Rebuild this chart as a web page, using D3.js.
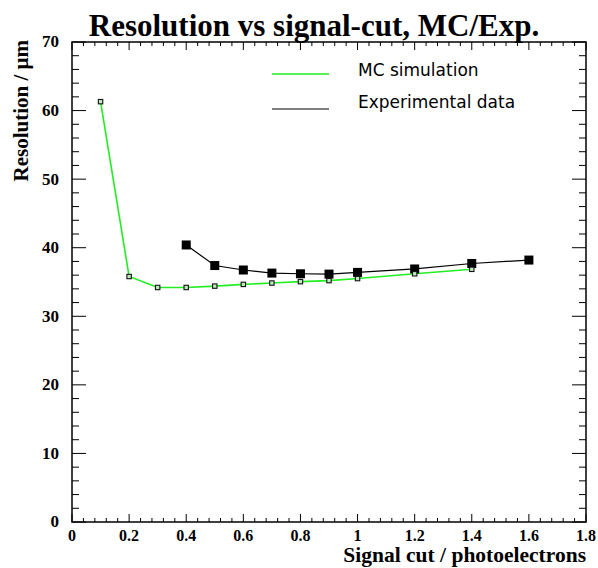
<!DOCTYPE html>
<html>
<head>
<meta charset="utf-8">
<script src="https://d3js.org/d3.v7.min.js"></script>
<style>
body { margin: 0; background: #fff; }
</style>
</head>
<body>
<div id="chart"></div>
<script>
// MC simulation
const mcCut = [0.1, 0.2, 0.3, 0.4, 0.5, 0.6, 0.7, 0.8, 0.9, 1.0, 1.2, 1.4];
const mcRes = [61.3, 35.8, 34.2, 34.2, 34.4, 34.65, 34.85, 35.05, 35.2, 35.5, 36.2, 36.85];
// Experimental data
const expCut = [0.4, 0.5, 0.6, 0.7, 0.8, 0.9, 1.0, 1.2, 1.4, 1.6];
const expRes = [40.4, 37.4, 36.75, 36.3, 36.2, 36.15, 36.4, 36.9, 37.7, 38.2];

const xTicks = [0, 0.2, 0.4, 0.6, 0.8, 1, 1.2, 1.4, 1.6, 1.8];
const yTicks = [0, 10, 20, 30, 40, 50, 60, 70];

const W = 598, H = 568;
const margin = {top: 42, right: 12, bottom: 46, left: 72},
    width = W - margin.left - margin.right,
    height = H - margin.top - margin.bottom;

const root = d3.select("#chart").append("svg")
    .attr("width", W)
    .attr("height", H);

const svg = root.append("g")
    .attr("transform", `translate(${margin.left},${margin.top})`);

const x = d3.scaleLinear().domain([0, 1.8]).range([0, width]);
const y = d3.scaleLinear().domain([0, 70]).range([height, 0]);

const serif = "'Liberation Serif', 'DejaVu Serif', serif";

// minor + major ticks on all four sides
const xMinor = d3.range(0, 1.8001, 0.04);
const yMinor = d3.range(0, 70.001, 2);
const isMajorX = v => Math.abs(v / 0.2 - Math.round(v / 0.2)) < 1e-6;
const isMajorY = v => v % 10 === 0;

const ticks = svg.append("g").attr("stroke", "#000").attr("stroke-width", 1);
xMinor.forEach(v => {
    const len = isMajorX(v) ? 8 : 4;
    ticks.append("line").attr("x1", x(v)).attr("x2", x(v)).attr("y1", height).attr("y2", height - len);
    ticks.append("line").attr("x1", x(v)).attr("x2", x(v)).attr("y1", 0).attr("y2", len);
});
yMinor.forEach(v => {
    const len = isMajorY(v) ? 14 : 7;
    ticks.append("line").attr("x1", 0).attr("x2", len).attr("y1", y(v)).attr("y2", y(v));
    ticks.append("line").attr("x1", width).attr("x2", width - len).attr("y1", y(v)).attr("y2", y(v));
});

// frame
svg.append("rect")
    .attr("width", width)
    .attr("height", height)
    .attr("fill", "none")
    .attr("stroke", "#000")
    .attr("stroke-width", 1.5);

// tick labels
svg.selectAll(".xlab")
    .data(xTicks)
    .enter().append("text")
    .attr("x", d => x(d))
    .attr("y", height + 19)
    .attr("text-anchor", "middle")
    .style("font-family", serif)
    .style("font-weight", "bold")
    .style("font-size", "16px")
    .text(d => d);

svg.selectAll(".ylab")
    .data(yTicks)
    .enter().append("text")
    .attr("x", -13)
    .attr("y", d => y(d))
    .attr("dy", "0.32em")
    .attr("text-anchor", "end")
    .style("font-family", serif)
    .style("font-weight", "bold")
    .style("font-size", "17px")
    .text(d => d);

const mcData = mcCut.map((c, i) => ({c: c, r: mcRes[i]}));
const expData = expCut.map((c, i) => ({c: c, r: expRes[i]}));

const line = d3.line()
    .x(d => x(d.c))
    .y(d => y(d.r));

svg.append("path")
    .datum(expData)
    .attr("fill", "none")
    .attr("stroke", "#000")
    .attr("stroke-width", 1.2)
    .attr("d", line);

svg.append("path")
    .datum(mcData)
    .attr("fill", "none")
    .attr("stroke", "#22ee22")
    .attr("stroke-width", 1.6)
    .attr("d", line);

svg.selectAll(".exp")
    .data(expData)
    .enter().append("rect")
    .attr("x", d => x(d.c) - 4.5)
    .attr("y", d => y(d.r) - 4.5)
    .attr("width", 9)
    .attr("height", 9)
    .attr("fill", "#000");

svg.selectAll(".mc")
    .data(mcData)
    .enter().append("rect")
    .attr("x", d => x(d.c) - 2.2)
    .attr("y", d => y(d.r) - 2.2)
    .attr("width", 4.4)
    .attr("height", 4.4)
    .attr("fill", "#bfe8bf")
    .attr("stroke", "#111")
    .attr("stroke-width", 1.1);

// legend
const legend = root.append("g");
legend.append("line")
    .attr("x1", 272).attr("x2", 329).attr("y1", 74).attr("y2", 74)
    .attr("stroke", "#22ee22").attr("stroke-width", 1.6);
legend.append("text")
    .attr("x", 358).attr("y", 76)
    .style("font-family", "'DejaVu Sans', sans-serif")
    .style("font-size", "17px")
    .text("MC simulation");
legend.append("line")
    .attr("x1", 272).attr("x2", 329).attr("y1", 109).attr("y2", 109)
    .attr("stroke", "#000").attr("stroke-width", 1.2);
legend.append("text")
    .attr("x", 358).attr("y", 108)
    .style("font-family", "'DejaVu Sans', sans-serif")
    .style("font-size", "17px")
    .text("Experimental data");

// title
root.append("text")
    .attr("x", 314)
    .attr("y", 36)
    .attr("text-anchor", "middle")
    .style("font-family", serif)
    .style("font-weight", "bold")
    .style("font-size", "31px")
    .text("Resolution vs signal-cut, MC/Exp.");

// axis titles
root.append("text")
    .attr("x", 586)
    .attr("y", 562)
    .attr("text-anchor", "end")
    .style("font-family", serif)
    .style("font-weight", "bold")
    .style("font-size", "21.5px")
    .text("Signal cut / photoelectrons");

root.append("text")
    .attr("transform", "translate(28,40) rotate(-90)")
    .attr("text-anchor", "end")
    .style("font-family", serif)
    .style("font-weight", "bold")
    .style("font-size", "21px")
    .text("Resolution / \u03bcm");
</script>
</body>
</html>
